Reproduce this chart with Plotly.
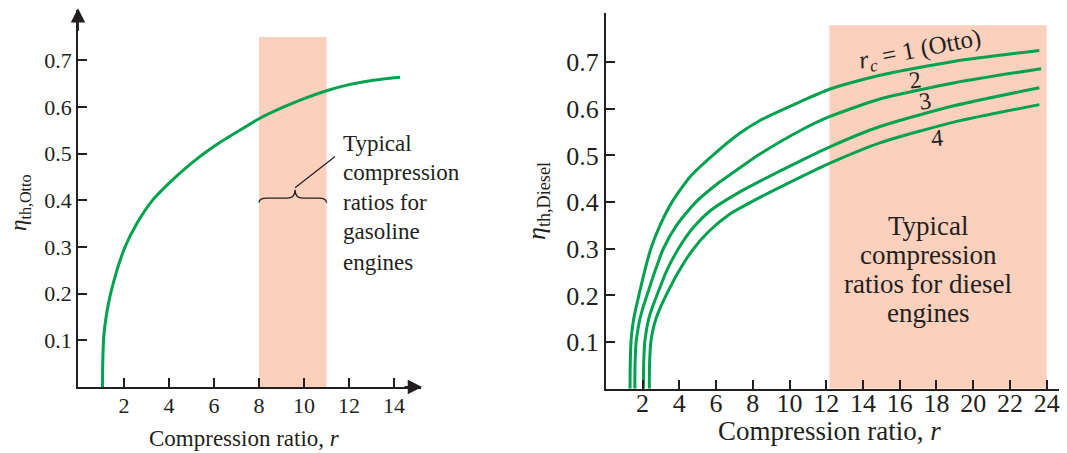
import plotly.graph_objects as go

W, H = 1067, 453

# ---------------- data ----------------
# Left: Otto cycle efficiency vs compression ratio
otto_r = [1.04, 1.05, 1.085, 1.13, 1.20, 1.29, 1.40, 1.68, 2.04, 2.56, 3.26, 4.0, 5.0,
          6.0, 7.0, 8.0, 9.0, 10.0, 11.0, 12.0, 13.0, 14.27]
otto_eta = [0.0, 0.05, 0.10, 0.125, 0.15, 0.175, 0.20, 0.25, 0.30, 0.35, 0.40, 0.437,
            0.48, 0.516, 0.546, 0.575, 0.598, 0.618, 0.635, 0.648, 0.657, 0.664]

# Right: Diesel cycle efficiency for cutoff ratios rc = 1..4
d1_r = [1.32, 1.33, 1.37, 1.43, 1.52, 1.65, 1.80, 2.10, 2.45, 2.95, 3.6, 4.6, 5.9,
        7.31, 8.39, 10.57, 12.17, 14.92, 19.0, 23.6]
d1_eta = [0.0, 0.05, 0.10, 0.125, 0.15, 0.175, 0.20, 0.25, 0.30, 0.35, 0.40, 0.455,
          0.503, 0.548, 0.575, 0.615, 0.642, 0.672, 0.702, 0.725]

d2_r = [1.58, 1.59, 1.65, 1.74, 1.86, 2.03, 2.24, 2.66, 3.13, 3.85, 4.9, 6.2, 7.31,
        8.39, 10.57, 12.17, 14.92, 19.0, 23.7]
d2_eta = [0.0, 0.05, 0.10, 0.125, 0.15, 0.175, 0.20, 0.25, 0.30, 0.35, 0.40, 0.443,
          0.474, 0.503, 0.553, 0.583, 0.621, 0.656, 0.686]

d3_r = [2.05, 2.06, 2.12, 2.21, 2.34, 2.54, 2.78, 3.28, 3.95, 4.75, 5.7, 7.3, 8.4,
        10.57, 12.17, 14.92, 19.0, 23.6]
d3_eta = [0.0, 0.05, 0.10, 0.125, 0.15, 0.175, 0.20, 0.25, 0.30, 0.345, 0.382, 0.422,
          0.445, 0.488, 0.518, 0.562, 0.607, 0.645]

d4_r = [2.37, 2.38, 2.45, 2.56, 2.73, 2.98, 3.28, 3.95, 4.68, 5.6, 6.7, 8.39, 10.57,
        12.17, 14.92, 19.0, 23.6]
d4_eta = [0.0, 0.05, 0.10, 0.125, 0.15, 0.175, 0.20, 0.25, 0.295, 0.337, 0.373, 0.41,
          0.453, 0.483, 0.527, 0.572, 0.609]

diesel_curves = [(d1_r, d1_eta), (d2_r, d2_eta), (d3_r, d3_eta), (d4_r, d4_eta)]
curve_labels = ["<i>r</i><sub><i>c</i></sub> = 1 (Otto)", "2", "3", "4"]

gasoline_band = [8.0, 11.0]
gasoline_band_top = 0.75
diesel_band = [12.17, 24.0]
diesel_band_top = 0.779

left_xticks = [2, 4, 6, 8, 10, 12, 14]
right_xticks = [2, 4, 6, 8, 10, 12, 14, 16, 18, 20, 22, 24]
yticks = [0.1, 0.2, 0.3, 0.4, 0.5, 0.6, 0.7]
ytick_text = ["0.1", "0.2", "0.3", "0.4", "0.5", "0.6", "0.7"]

# ---------------- styling ----------------
GREEN = "#00A24F"
SHADE = "#FBD0BD"
INK = "#231F20"
SERIF = "Liberation Serif, Times New Roman, serif"


def px(x):
    return x / W


def py(y):
    return 1 - y / H


fig = go.Figure()

fig.add_trace(go.Scatter(x=otto_r, y=otto_eta, mode="lines", xaxis="x", yaxis="y",
                         line=dict(color=GREEN, width=3, shape="spline", smoothing=0.6),
                         showlegend=False, hoverinfo="skip"))
for r, e in diesel_curves:
    fig.add_trace(go.Scatter(x=r, y=e, mode="lines", xaxis="x2", yaxis="y2",
                             line=dict(color=GREEN, width=3, shape="spline", smoothing=0.6),
                             showlegend=False, hoverinfo="skip"))

# shaded bands
fig.add_shape(type="rect", xref="x", yref="y", x0=gasoline_band[0], x1=gasoline_band[1],
              y0=0, y1=gasoline_band_top, fillcolor=SHADE, line_width=0, layer="below")
fig.add_shape(type="rect", xref="x2", yref="y2", x0=diesel_band[0], x1=diesel_band[1],
              y0=0, y1=diesel_band_top, fillcolor=SHADE, line_width=0, layer="below")

# brace under the gasoline text
b0, b1 = gasoline_band
bm = (b0 + b1) / 2 + 0.1
yb = 0.405
brace = (f"M {b0},{yb-0.010} Q {b0},{yb} {b0+0.35},{yb} L {bm-0.35},{yb} "
         f"Q {bm},{yb} {bm},{yb+0.018} Q {bm},{yb} {bm+0.35},{yb} L {b1-0.35},{yb} "
         f"Q {b1},{yb} {b1},{yb-0.010}")
fig.add_shape(type="path", xref="x", yref="y", path=brace,
              line=dict(color=INK, width=1.3))
fig.add_shape(type="line", xref="x", yref="y", x0=bm, y0=yb + 0.022, x1=11.38, y1=0.494,
              line=dict(color=INK, width=1.2))

axis_common = dict(showgrid=False, zeroline=False, showline=True, linecolor=INK,
                   linewidth=1.8, ticks="inside", tickcolor=INK, tickwidth=1.5,
                   ticklen=9, fixedrange=True)

fig.update_layout(
    width=W, height=H, margin=dict(l=0, r=0, t=0, b=0),
    paper_bgcolor="white", plot_bgcolor="rgba(0,0,0,0)",
    font=dict(family=SERIF, color=INK),
    xaxis=dict(domain=[px(78), px(421)], range=[-0.05, 15.2], anchor="y",
               tickvals=left_xticks, tickfont=dict(size=22, family=SERIF, color=INK),
               ticklabelstandoff=-2, **axis_common),
    yaxis=dict(domain=[py(387), py(10)], range=[0, 0.808], anchor="x",
               tickvals=yticks, ticktext=ytick_text,
               tickfont=dict(size=22, family=SERIF, color=INK), **axis_common),
    xaxis2=dict(domain=[px(605.8), px(1059)], range=[0, 24.67], anchor="y2",
                tickvals=right_xticks, tickfont=dict(size=26, family=SERIF, color=INK),
                ticklabelstandoff=-10, **axis_common),
    yaxis2=dict(domain=[py(388.7), py(12.7)], range=[0, 0.806], anchor="x2",
                tickvals=yticks, ticktext=ytick_text,
                tickfont=dict(size=26, family=SERIF, color=INK), **axis_common),
)

ann = []
# axis arrows on the left panel
ann.append(dict(x=15.25, y=0, ax=14.4, ay=0, xref="x", yref="y", axref="x", ayref="y",
                text="", showarrow=True, arrowhead=2, arrowsize=1.6, arrowwidth=1.8,
                arrowcolor=INK))
ann.append(dict(x=-0.05, y=0.812, ax=-0.05, ay=0.76, xref="x", yref="y", axref="x",
                ayref="y", text="", showarrow=True, arrowhead=2, arrowsize=1.6,
                arrowwidth=1.8, arrowcolor=INK))


def label(txt, xc, yc, size, angle=0, xanchor="center"):
    ann.append(dict(x=px(xc), y=py(yc), xref="paper", yref="paper", text=txt,
                    textangle=angle, xanchor=xanchor, yanchor="middle",
                    showarrow=False, font=dict(size=size, family=SERIF, color=INK)))


# axis titles
label("Compression ratio, <i>r</i>", 245, 438, 23)
label("Compression ratio, <i>r</i>", 829, 431, 27)
label("<i>η</i><sub>th,Otto</sub>", 20, 203, 23, angle=-90)
label("<i>η</i><sub>th,Diesel</sub>", 538, 201, 26, angle=-90)

# gasoline note
for txt, yc in zip(["Typical", "compression", "ratios for", "gasoline", "engines"],
                   [143, 173, 202, 232, 262]):
    label(txt, 341, yc, 23, xanchor="left")

# diesel note
for txt, yc in zip(["Typical", "compression", "ratios for diesel", "engines"],
                   [226, 255, 284, 313]):
    label(txt, 928, yc, 27)

# curve labels
for txt, (xc, yc), ang, sz in zip(curve_labels,
                                  [(920, 50), (915, 80), (925, 101), (937, 138)],
                                  [-11, -8, -8, -5], [25, 24, 24, 24]):
    label(txt, xc, yc, sz, angle=ang)

fig.update_layout(annotations=ann)
fig.write_html("out.html", config={"displayModeBar": False},
               post_script="document.body.style.margin='0px';")
